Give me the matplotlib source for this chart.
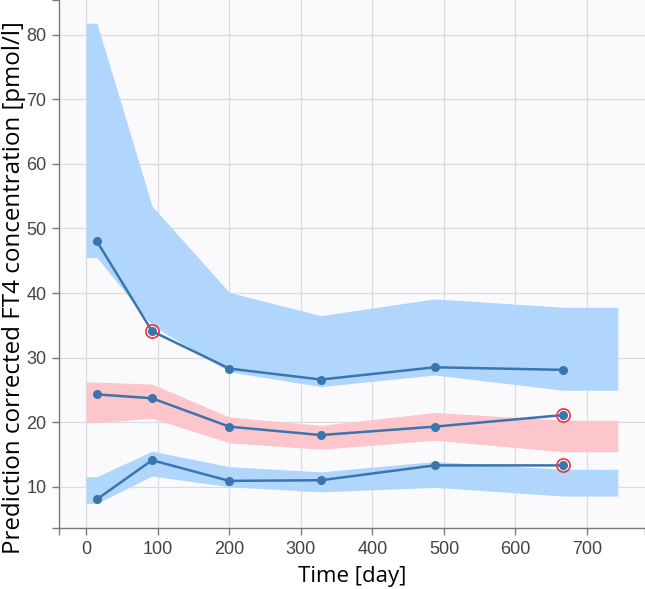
import numpy as np
from matplotlib import pyplot as plt

# observed percentiles per time bin
time_bins = [15, 92, 200, 328, 487, 667]
obs_hi = [48.0, 34.1, 28.3, 26.6, 28.5, 28.1]
obs_mid = [24.3, 23.7, 19.3, 18.0, 19.3, 21.1]
obs_lo = [8.05, 14.1, 10.9, 11.0, 13.3, 13.3]

# simulated confidence bands
band_x = [0, 15, 92, 200, 328, 487, 667, 743]
hi_upper = [81.8, 81.8, 53.5, 40.1, 36.5, 39.1, 37.8, 37.8]
hi_lower = [45.5, 45.5, 35.0, 27.8, 25.5, 27.3, 24.95, 24.95]
mid_upper = [26.2, 26.2, 25.9, 20.8, 19.5, 21.5, 20.3, 20.3]
mid_lower = [19.95, 19.95, 20.6, 16.8, 15.8, 17.2, 15.4, 15.4]
lo_upper = [11.55, 11.55, 15.5, 13.1, 12.3, 13.9, 12.7, 12.7]
lo_lower = [7.4, 7.4, 11.65, 10.0, 9.2, 9.9, 8.55, 8.55]

# points falling outside the simulated interval
out_x = [92, 667, 667]
out_y = [34.1, 21.1, 13.3]

BLUE_BAND = "#b0d6fd"
RED_BAND = "#fcc6cb"
LINE = "#3a76ad"

fig = plt.figure(figsize=(6.45, 5.89), dpi=100)
ax = fig.add_axes([59 / 645, 1 - 528 / 589, 586 / 645, 528 / 589])
ax.set_facecolor("#fafafd")

ax.fill_between(band_x, hi_lower, hi_upper, color=BLUE_BAND, lw=0, zorder=2)
ax.fill_between(band_x, mid_lower, mid_upper, color=RED_BAND, lw=0, zorder=2)
ax.fill_between(band_x, lo_lower, lo_upper, color=BLUE_BAND, lw=0, zorder=2)

for series in (obs_hi, obs_mid, obs_lo):
	ax.plot(time_bins, series, color=LINE, lw=1.8, marker="o", ms=5.5, zorder=4)

ax.plot(out_x, out_y, ls="none", marker="o", ms=9.5, mfc="none", mec="#f0343c", mew=1.2, zorder=5)

ax.set_xlim(-38, 781)
ax.set_ylim(3.6, 85.4)
ax.set_xticks(range(0, 701, 100))
ax.set_yticks(range(10, 81, 10))
# tick marks at the axis ends, like the original software
ax.set_xticks([-38, 781], minor=True)
ax.set_yticks([3.6, 85.4], minor=True)

ax.grid(True, color="#dcdce0", lw=0.9, zorder=0)
ax.set_axisbelow(True)
for side in ("top", "right"):
	ax.spines[side].set_visible(False)
for side in ("left", "bottom"):
	ax.spines[side].set_color("#7a7a7a")
	ax.spines[side].set_linewidth(1.0)

ax.tick_params(which="both", length=5, width=1.0, color="#7a7a7a", labelsize=13,
	labelcolor="#444444", pad=4)
for lab in ax.get_xticklabels() + ax.get_yticklabels():
	lab.set_fontfamily("Liberation Sans")

ax.set_xlabel("Time [day]", fontsize=16, family="Open Sans", labelpad=6)
ax.set_ylabel("Prediction corrected FT4 concentration [pmol/l]", fontsize=17.4,
	family="Open Sans")
ax.yaxis.set_label_coords(-33 / 586, 0.455)

fig.savefig("out.png", dpi=100)
